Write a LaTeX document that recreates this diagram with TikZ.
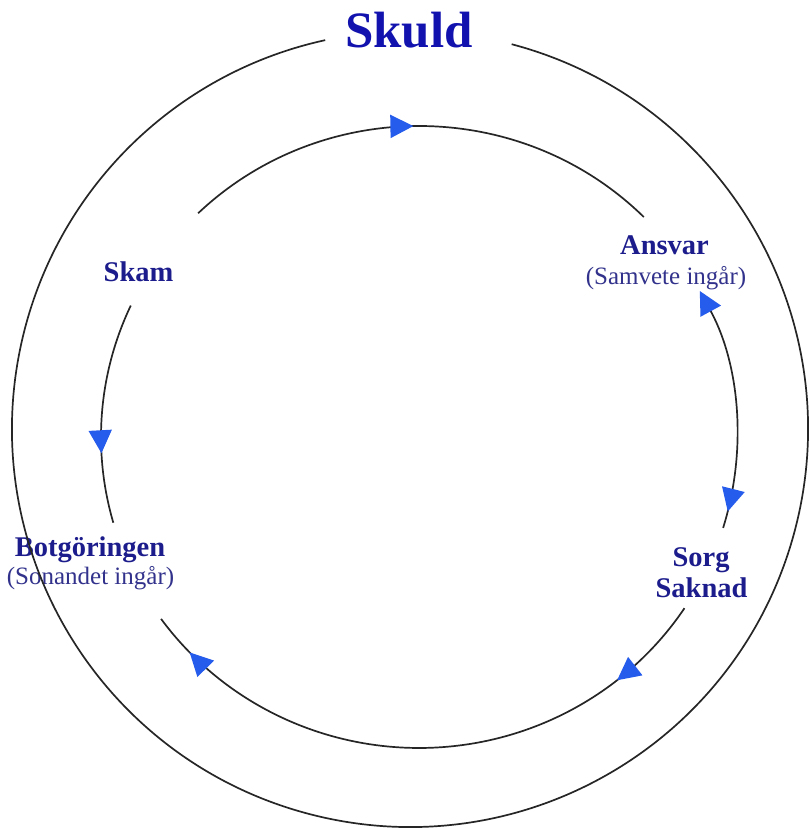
\documentclass[tikz,border=0pt]{standalone}
\usepackage{fontspec}
\setmainfont{Liberation Serif}
\usetikzlibrary{arrows.meta,decorations.markings}
\definecolor{skuldblue}{RGB}{18,18,175}
\definecolor{labelblue}{RGB}{28,28,140}
\definecolor{subblue}{RGB}{50,50,140}
\definecolor{arrowblue}{RGB}{38,92,235}
\tikzset{bluetri/.tip={Triangle[length=23pt,width=23pt,color=arrowblue]}}
\begin{document}
\begin{tikzpicture}[x=1pt,y=1pt,
  ring/.style={line width=1.7pt, draw=black!85},
  title/.style={font=\bfseries\fontsize{51}{55}\selectfont, text=skuldblue, anchor=base, inner sep=0pt},
  lbl/.style={font=\bfseries\fontsize{28.5}{31}\selectfont, text=labelblue, anchor=base, inner sep=0pt},
  sub/.style={font=\fontsize{25}{27}\selectfont, text=subblue, anchor=base, inner sep=0pt},
  midarrow/.style={postaction={decorate,decoration={markings,mark=at position #1 with {\arrow{bluetri}}}}}
]
\useasboundingbox (0,0) rectangle (810,829);
\coordinate (O) at (410,400);
\coordinate (C) at (419,392);

% labels
\node[title] (skuld) at (409,781) {Skuld};
\node[lbl] (ansvar) at (664.5,574) {Ansvar};
\node[sub] (samvete) at (666,544) {(Samvete ingår)};
\node[lbl] (skam) at (138.5,547) {Skam};
\node[lbl] (botg) at (90,272) {Botgöringen};
\node[sub] (sonandet) at (90.5,244) {(Sonandet ingår)};
\node[lbl] (sorg) at (701,262) {Sorg};
\node[lbl] (saknad) at (701.5,231) {Saknad};

% outer ring with gap for the title
\path (O) ++(75.2:398) coordinate (o1);
\draw[ring] (o1) arc[start angle=75.2, end angle=-257.7, radius=398] coordinate (o2);

% Skam -> Ansvar (top)
\path (C) ++(134:318 and 311) coordinate (a1);
\draw[ring, midarrow=0.483] (a1) arc[start angle=134, end angle=45, x radius=318, y radius=311] coordinate (a2);

% Ansvar <-> Sorg (right)
\path (C) ++(28:318 and 311) coordinate (b1);
\draw[ring, arrows={bluetri-}, midarrow=0.93] (b1) arc[start angle=28, end angle=-17, x radius=318, y radius=311] coordinate (b2);

% Saknad -> Botgoringen (bottom)
\path (C) ++(-33.4:318 and 311) coordinate (c1);
\draw[ring, midarrow=0.162, midarrow=0.928] (c1) arc[start angle=-33.4, end angle=-144.2, x radius=318, y radius=311] coordinate (c2);

% Skam -> Botgoringen (left)
\path (C) ++(155:318 and 311) coordinate (d1);
\draw[ring, midarrow=0.683] (d1) arc[start angle=155, end angle=196, x radius=318, y radius=311] coordinate (d2);
\end{tikzpicture}
\end{document}
